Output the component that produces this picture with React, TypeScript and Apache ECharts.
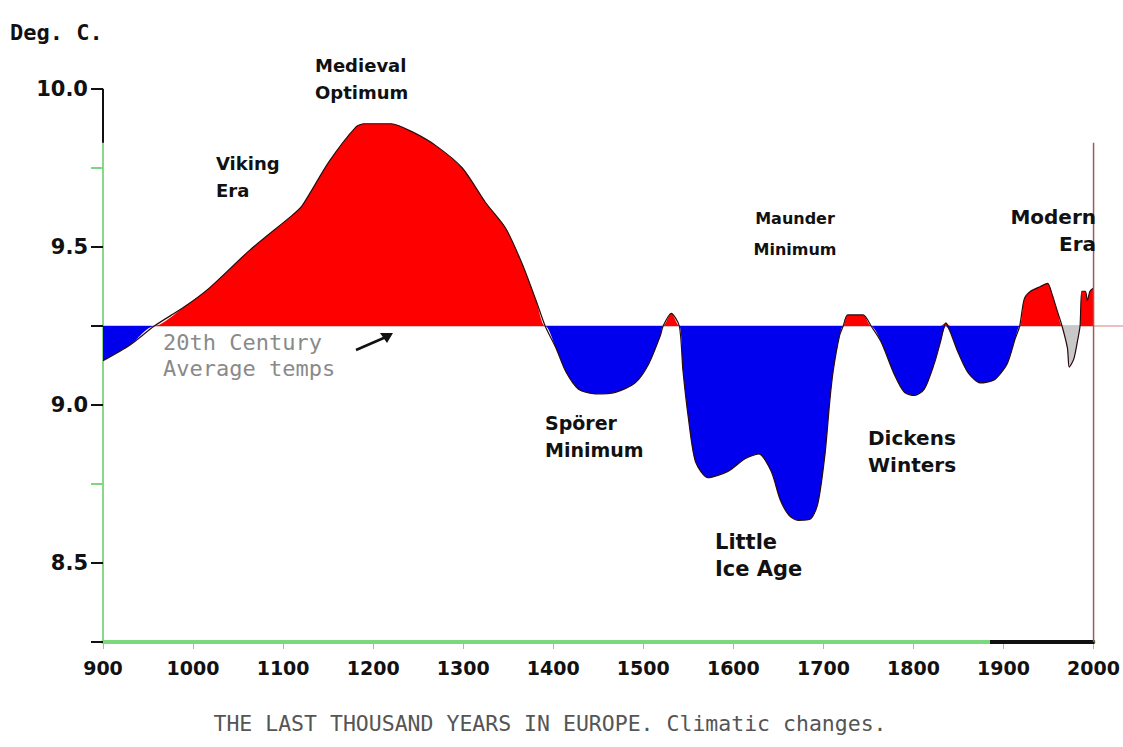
import React, { useEffect, useRef } from 'react';
import * as echarts from 'echarts';

// Temperature reconstruction, Europe (Deg. C.)
const years = [
  900, 930, 957, 990, 1018, 1063, 1110, 1121, 1151, 1181, 1190, 1220, 1243, 1270, 1299,
  1325, 1347, 1365, 1381, 1391, 1403, 1414, 1428, 1447, 1469, 1491, 1506, 1519, 1522,
  1531, 1540, 1544, 1550, 1558, 1572, 1594, 1613, 1628, 1642, 1652, 1662, 1672, 1686,
  1694, 1702, 1707, 1711, 1718, 1722, 1727, 1744, 1753, 1764, 1779, 1790, 1801, 1812,
  1823, 1830, 1836, 1841, 1849, 1860, 1874, 1890, 1904, 1913, 1918, 1923, 1930, 1941,
  1949, 1954, 1960, 1965, 1971, 1973, 1978, 1982, 1985, 1987, 1991, 1993, 1996, 2000,
];
const temps = [
  9.14, 9.19, 9.25, 9.31, 9.37, 9.49, 9.6, 9.63, 9.77, 9.88, 9.89, 9.89, 9.865, 9.82, 9.75,
  9.64, 9.56, 9.45, 9.33, 9.25, 9.18, 9.105, 9.05, 9.035, 9.04, 9.07, 9.13, 9.22, 9.25,
  9.29, 9.25, 9.11, 8.96, 8.82, 8.77, 8.79, 8.83, 8.845, 8.79, 8.7, 8.65, 8.635, 8.64,
  8.69, 8.85, 9.01, 9.11, 9.22, 9.25, 9.285, 9.285, 9.25, 9.2, 9.095, 9.04, 9.03, 9.05,
  9.13, 9.2, 9.26, 9.23, 9.17, 9.105, 9.07, 9.08, 9.13, 9.21, 9.25, 9.335, 9.36, 9.375,
  9.385, 9.35, 9.295, 9.25, 9.18, 9.12, 9.145, 9.2, 9.25, 9.36, 9.36, 9.33, 9.36, 9.37,
];
const baseline = 9.25; // 20th century average
const dipStart = 1965;
const dipEnd = 1985;
const greenTickValues = [8.75, 9.75];
const xMin = 900;
const xMax = 2000;
const yMin = 8.25;
const yMax = 10.0;
const axisBlackFrom = 9.83; // y-axis turns black above this
const xAxisBlackFrom = 1885; // x-axis turns black after this

const BOLD = "'DejaVu Sans', sans-serif";
const MONO = "'DejaVu Sans Mono', monospace";
const SMOOTH = 0.25;

export default function App() {
  const ref = useRef<HTMLDivElement>(null);
  useEffect(() => {
    const chart = echarts.init(ref.current!, null, { renderer: 'svg' });
    const main = years.map((y, i) => [y, temps[i]]);
    const above = main.map((p) => [p[0], Math.max(p[1], baseline)]);
    const below = main.map((p) => [p[0], Math.min(p[1], baseline)]);
    const dip = main.filter((p) => p[0] >= dipStart && p[0] <= dipEnd);
    chart.setOption({
      animation: false,
      backgroundColor: '#ffffff',
      grid: { left: 103, right: 28, top: 89, bottom: 105 },
      xAxis: {
        type: 'value',
        min: xMin,
        max: xMax,
        interval: 100,
        axisLine: { lineStyle: { color: '#7cd87c', width: 4 } },
        axisTick: { length: 7, lineStyle: { color: '#7cd87c', width: 1 } },
        axisLabel: {
          margin: 16,
          formatter: (v: number) => String(v),
          fontFamily: BOLD,
          fontWeight: 'bold',
          fontSize: 19,
          color: '#111',
        },
        splitLine: { show: false },
      },
      yAxis: {
        type: 'value',
        min: yMin,
        max: yMax,
        interval: 0.25,
        axisLine: { show: true, lineStyle: { color: '#8ad88a', width: 2 } },
        axisTick: { show: true, length: 12, lineStyle: { color: '#111', width: 2 } },
        axisLabel: {
          formatter: (v: number) => (Math.abs(v * 2 - Math.round(v * 2)) < 1e-6 ? v.toFixed(1) : ''),
          margin: 15,
          fontFamily: BOLD,
          fontWeight: 'bold',
          fontSize: 21,
          color: '#111',
        },
        splitLine: { show: false },
      },
      series: [
        {
          type: 'line',
          data: above,
          symbol: 'none',
          smooth: SMOOTH,
          lineStyle: { width: 0, opacity: 0 },
          areaStyle: { origin: baseline, color: '#ff0000', opacity: 1 },
          z: 3,
        },
        {
          type: 'line',
          data: below,
          symbol: 'none',
          smooth: SMOOTH,
          lineStyle: { width: 0, opacity: 0 },
          areaStyle: { origin: baseline, color: '#0000ee', opacity: 1 },
          z: 3,
        },
        {
          type: 'line',
          data: dip,
          symbol: 'none',
          smooth: SMOOTH,
          lineStyle: { width: 0, opacity: 0 },
          areaStyle: { origin: baseline, color: '#c8c8c8', opacity: 1 },
          z: 4,
        },
        {
          type: 'line',
          data: main,
          symbol: 'none',
          smooth: SMOOTH,
          lineStyle: { color: '#2a0a0a', width: 1.2 },
          z: 5,
        },
      ],
    });

    const px = (x: number, y: number) => chart.convertToPixel({ xAxisIndex: 0, yAxisIndex: 0 }, [x, y]) as number[];
    const p900top = px(xMin, yMax);
    const p900mid = px(xMin, axisBlackFrom);
    const pxb0 = px(xAxisBlackFrom, yMin);
    const pxb1 = px(xMax, yMin);
    const pR0 = px(xMax, yMin);
    const pR1 = px(xMax, axisBlackFrom);
    const pB0 = px(xMin, baseline);
    const pB1 = px(xMax, baseline);

    const txt = (text: string, x: number, y: number, extra: any = {}) => ({
      type: 'text',
      x,
      y,
      z: 10,
      style: {
        text,
        fill: '#111',
        fontFamily: BOLD,
        fontWeight: 'bold',
        fontSize: 18,
        lineHeight: 27,
        ...extra,
      },
    });

    const greenTicks = greenTickValues.map((v) => {
      const p = px(xMin, v);
      return {
        type: 'line',
        z: 10,
        shape: { x1: p[0] - 12, y1: p[1], x2: p[0], y2: p[1] },
        style: { stroke: '#7cd87c', lineWidth: 2 },
      };
    });

    chart.setOption({
      graphic: [
        { type: 'line', z: 1, shape: { x1: pB0[0], y1: pB0[1], x2: 1123, y2: pB1[1] }, style: { stroke: '#e08080', lineWidth: 1.2 } },
        { type: 'line', z: 10, shape: { x1: p900top[0], y1: p900top[1], x2: p900mid[0], y2: p900mid[1] }, style: { stroke: '#111', lineWidth: 2 } },
        { type: 'line', z: 10, shape: { x1: pxb0[0], y1: pxb0[1], x2: pxb1[0] + 1, y2: pxb1[1] }, style: { stroke: '#111', lineWidth: 4 } },
        { type: 'line', z: 10, shape: { x1: pR0[0], y1: pR0[1], x2: pR1[0], y2: pR1[1] }, style: { stroke: '#a05858', lineWidth: 1.5 } },
        ...greenTicks,
        txt('Deg. C.', 10, 19, { fontFamily: MONO, fontSize: 22 }),
        txt('Medieval\nOptimum', 315, 52),
        txt('Viking\nEra', 216, 150),
        txt('Maunder\nMinimum', 795, 203, { fontSize: 16, lineHeight: 31, textAlign: 'center' }),
        txt('Modern\nEra', 1096, 203, { fontSize: 20, textAlign: 'right' }),
        txt('20th Century\nAverage temps', 163, 329, { fontFamily: MONO, fontWeight: 'normal', fontSize: 22, fill: '#8a8a8a', lineHeight: 26 }),
        txt('Spörer\nMinimum', 545, 409, { fontSize: 19 }),
        txt('Little\nIce Age', 715, 528, { fontSize: 21 }),
        txt('Dickens\nWinters', 868, 424, { fontSize: 20 }),
        txt('THE LAST THOUSAND YEARS IN EUROPE. Climatic changes.', 550, 710, {
          fontFamily: MONO,
          fontWeight: 'normal',
          fontSize: 21.5,
          fill: '#555',
          textAlign: 'center',
        }),
        { type: 'line', z: 10, shape: { x1: 356, y1: 350, x2: 386, y2: 337 }, style: { stroke: '#111', lineWidth: 2.5 } },
        { type: 'polygon', z: 10, shape: { points: [[393, 333], [380, 333], [387, 343]] }, style: { fill: '#111' } },
      ],
    });

    return () => chart.dispose();
  }, []);
  return (
    <div
      ref={ref}
      style={{ position: 'fixed', left: 0, top: 0, width: 1123, height: 747, background: '#fff' }}
    />
  );
}
